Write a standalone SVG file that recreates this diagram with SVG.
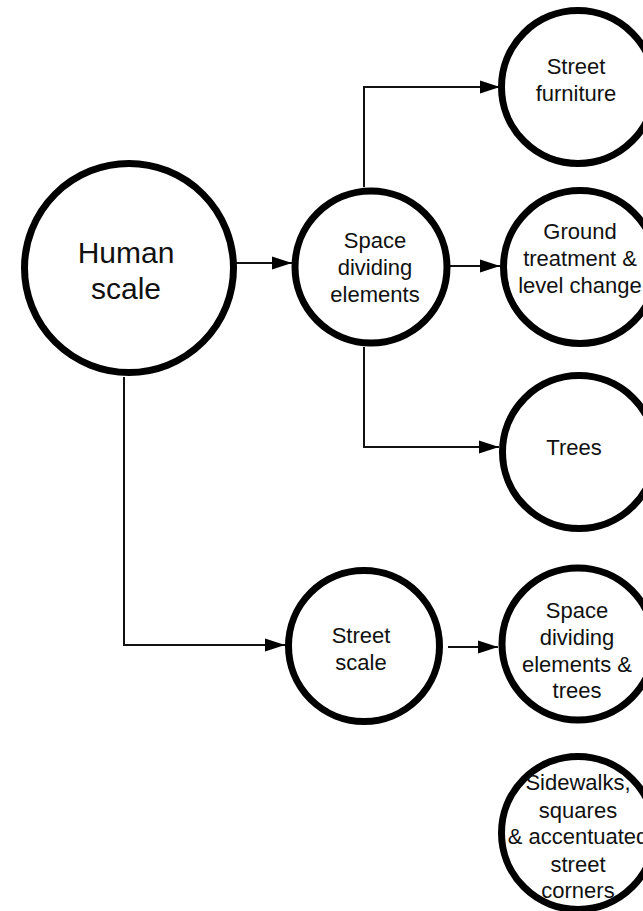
<svg xmlns="http://www.w3.org/2000/svg" width="643" height="911" viewBox="0 0 643 911">
  <style>
    .node circle { fill: #ffffff; stroke: #000000; stroke-width: 7; }
    .node text { font-family: "Liberation Sans", Arial, sans-serif; font-size: 22px; fill: #111111; text-anchor: middle; }
    .node.big text { font-size: 30px; }
    .links path { fill: none; stroke: #111111; stroke-width: 2; marker-end: url(#arrow); }
  </style>
  <defs>
    <marker id="arrow" markerUnits="userSpaceOnUse" markerWidth="20" markerHeight="14" refX="20" refY="7" orient="auto">
      <path d="M0,0.5 L20,7 L0,13.5 z" fill="#000000"/>
    </marker>
  </defs>

  <rect width="643" height="911" fill="#ffffff"/>

  <!-- connectors -->
  <g class="links">
    <path d="M236,263 H292"/>
    <path d="M364,187 V87 H500"/>
    <path d="M450,266 H500"/>
    <path d="M364,347 V447 H499"/>
    <path d="M124,377 V645 H285"/>
    <path d="M448,647 H498"/>
  </g>

  <!-- nodes -->
  <g id="human-scale" class="node big">
    <circle cx="129" cy="268" r="104.5"/>
    <text x="126" y="263">Human</text>
    <text x="126" y="299">scale</text>
  </g>

  <g id="space-dividing" class="node">
    <circle cx="371" cy="267" r="76"/>
    <text x="375" y="248">Space</text>
    <text x="375" y="275">dividing</text>
    <text x="375" y="302">elements</text>
  </g>

  <g id="street-furniture" class="node">
    <circle cx="578" cy="87" r="76.5"/>
    <text x="576" y="74">Street</text>
    <text x="576" y="101">furniture</text>
  </g>

  <g id="ground-treatment" class="node">
    <circle cx="580" cy="267" r="76.5"/>
    <text x="580" y="239">Ground</text>
    <text x="580" y="266">treatment &amp;</text>
    <text x="580" y="293">level change</text>
  </g>

  <g id="trees" class="node">
    <circle cx="579" cy="452" r="76.5"/>
    <text x="574" y="455">Trees</text>
  </g>

  <g id="street-scale" class="node">
    <circle cx="364" cy="646" r="75.5"/>
    <text x="361" y="643">Street</text>
    <text x="361" y="670">scale</text>
  </g>

  <g id="space-dividing-trees" class="node">
    <circle cx="578" cy="644" r="76"/>
    <text x="577" y="618">Space</text>
    <text x="577" y="645">dividing</text>
    <text x="577" y="672">elements &amp;</text>
    <text x="577" y="698">trees</text>
  </g>

  <g id="sidewalks" class="node">
    <circle cx="578" cy="833" r="76.5"/>
    <text x="578" y="790">Sidewalks,</text>
    <text x="578" y="818">squares</text>
    <text x="578" y="844">&amp; accentuated</text>
    <text x="578" y="872">street</text>
    <text x="578" y="898">corners</text>
  </g>
</svg>
